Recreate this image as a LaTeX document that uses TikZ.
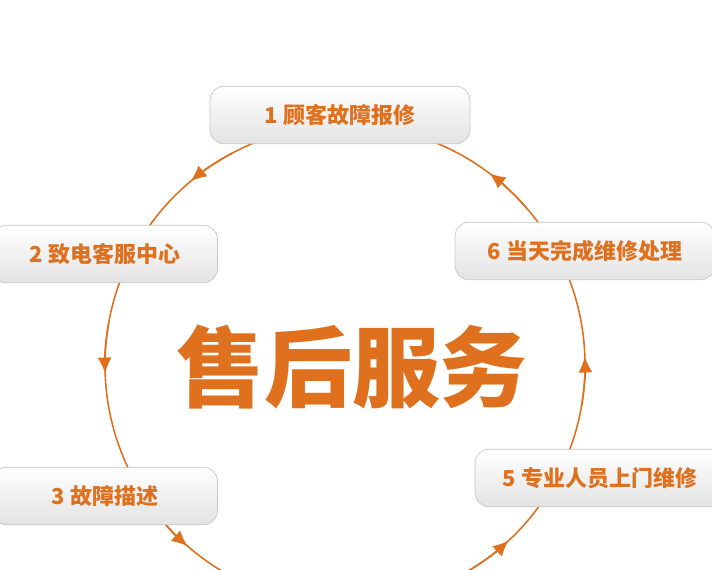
\documentclass[tikz,border=0pt]{standalone}
\usepackage{fontspec}
\newfontfamily\cjk{Noto Sans CJK SC}
\usetikzlibrary{arrows.meta,positioning}
\definecolor{svcorange}{RGB}{222,112,30}

\begin{document}
\begin{tikzpicture}[
            x=0.02cm, y=0.02cm,
            stepbox/.style={rectangle, rounded corners=8pt, draw=gray!45, top color=white, bottom color=gray!22, minimum height=1.15cm, font=\cjk\bfseries\fontsize{12.5}{14}\selectfont, text=svcorange},
            ring/.style={draw=svcorange, line width=0.9pt},
            tip/.style={ring, -{Latex[length=9pt,width=8pt]}}
        ]
        \useasboundingbox (0,0) rectangle (712,569);
        \coordinate (hub) at (345,204);
        
        \draw[ring] (hub) circle (240);
        \foreach \a in {130,182,229,313,2,53}
            \draw[tip] (hub) ++(\a-12:240) arc (\a-12:\a:240);
        
        \node[stepbox, minimum width=5.2cm] (report) at (340,454) {1 顾客故障报修};
        \node[stepbox, minimum width=4.5cm] (call) at (105,315) {2 致电客服中心};
        \node[stepbox, minimum width=4.5cm] (describe) at (105,73) {3 故障描述};
        \node[stepbox, minimum width=5.0cm] (visit) at (600,91) {5 专业人员上门维修};
        \node[stepbox, minimum width=5.2cm] (finish) at (585,318) {6 当天完成维修处理};
        
        \node[font=\cjk\bfseries\fontsize{50}{58}\selectfont, text=svcorange] (title) at (352,202) {售后服务};
        
        \end{tikzpicture}
\end{document}
